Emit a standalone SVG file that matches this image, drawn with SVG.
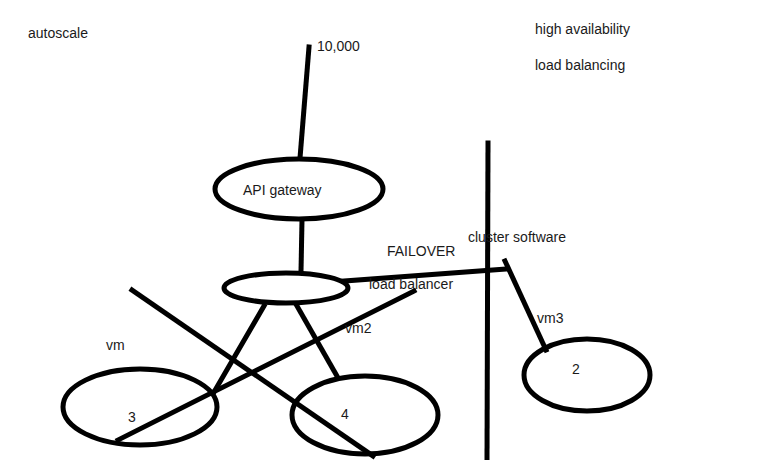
<svg xmlns="http://www.w3.org/2000/svg" width="768" height="460" viewBox="0 0 768 460">
<style>
.n{fill:none;stroke:#000;stroke-width:5}
.c{stroke:#000;stroke-width:5;fill:none;stroke-linecap:square}
text{font-family:"Liberation Sans",Arial,sans-serif;font-size:14px;fill:#1a1a1a}
</style>
<rect width="768" height="460" fill="#fff"/>
<g id="connectors">
<line class="c" x1="309" y1="47" x2="300" y2="158"/>
<line class="c" x1="302" y1="220" x2="301" y2="272"/>
<line class="c" x1="344" y1="281" x2="507" y2="269"/>
<line class="c" x1="488" y1="143" x2="487" y2="460"/>
<line class="c" x1="505" y1="261" x2="546" y2="350"/>
<line class="c" x1="264" y1="306" x2="214" y2="392"/>
<line class="c" x1="297" y1="306" x2="337" y2="376"/>
<line class="c" x1="132" y1="290" x2="373" y2="456"/>
<line class="c" x1="414" y1="291" x2="118" y2="440"/>
</g>
<g id="api-gateway">
<ellipse class="n" cx="299" cy="189" rx="84" ry="30"/>
<text x="243" y="195">API gateway</text>
</g>
<g id="load-balancer">
<ellipse class="n" cx="286" cy="288" rx="62" ry="15"/>
<text x="369" y="289">load balancer</text>
</g>
<g id="vm">
<ellipse class="n" cx="140" cy="407" rx="77" ry="38"/>
<text x="128" y="422">3</text>
</g>
<g id="vm2">
<ellipse class="n" cx="365" cy="415" rx="73" ry="39"/>
<text x="341" y="419">4</text>
</g>
<g id="vm3">
<ellipse class="n" cx="587" cy="375" rx="63" ry="36"/>
<text x="572" y="374">2</text>
</g>
<g id="labels">
<text x="28" y="38">autoscale</text>
<text x="317" y="51">10,000</text>
<text x="535" y="34">high availability</text>
<text x="535" y="70">load balancing</text>
<text x="387" y="256">FAILOVER</text>
<text x="468" y="242">cluster software</text>
<text x="106" y="350">vm</text>
<text x="345" y="333">vm2</text>
<text x="537" y="323">vm3</text>
</g>
</svg>
